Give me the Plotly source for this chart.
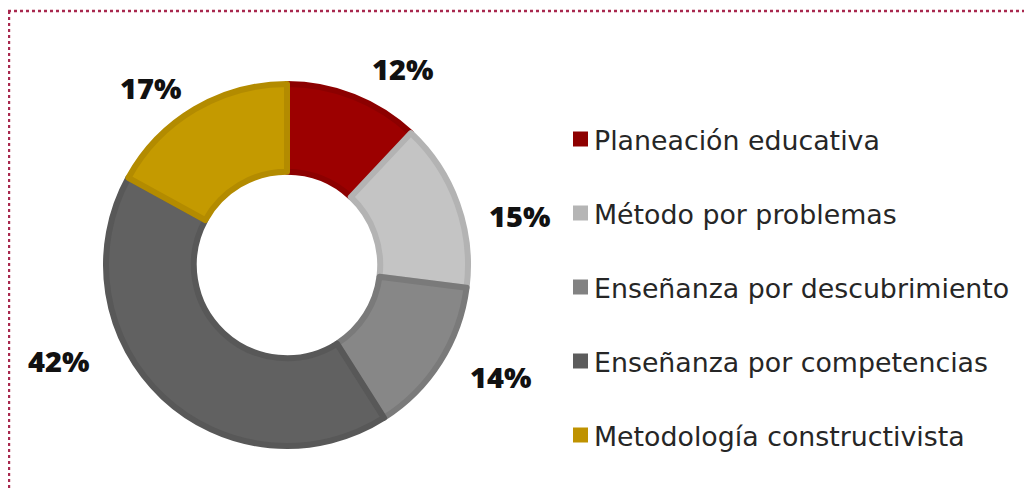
import plotly.graph_objects as go

# page body has an 8px margin, so the figure is sized/offset to compensate
OFF = 8
W, H = 1032 - OFF, 491 - OFF

categories = ["Planeación educativa", "Método por problemas", "Enseñanza por descubrimiento",
              "Enseñanza por competencias", "Metodología constructivista"]
values = [12, 15, 14, 42, 17]

fill_colors = ["#9C0000", "#C4C4C4", "#878787", "#616161", "#C49A00"]
edge_colors = ["#8C0000", "#B3B3B3", "#7A7A7A", "#585858", "#B38B00"]
legend_colors = ["#8E0000", "#B5B5B5", "#828282", "#5C5C5C", "#BF9200"]

# label placement (page pixel centers) for the percentage labels
label_pos = [(402, 68), (519, 215), (500, 376), (58, 360), (150, 88)]


def px(x):
    return (x - OFF) / W


def py(y):
    return 1 - (y - OFF) / H


cx, cy, R = 287, 265, 181
fig = go.Figure()
fig.add_trace(go.Pie(
    labels=categories, values=values, sort=False, direction="clockwise", rotation=0,
    hole=0.515,
    marker=dict(colors=fill_colors, line=dict(color=edge_colors, width=6)),
    textinfo="none", hoverinfo="label+percent", showlegend=False,
    domain=dict(x=[px(cx - R), px(cx + R)], y=[py(cy + R), py(cy - R)]),
))

annotations = []
shapes = []
for (lx, ly), v in zip(label_pos, values):
    annotations.append(dict(
        x=px(lx), y=py(ly), xref="paper", yref="paper", text=f"{v}%", showarrow=False,
        xanchor="center", yanchor="middle",
        font=dict(family="Open Sans", size=29, color="#111111", weight=800)))

row0, gap = 139, 74
for i, (cat, col) in enumerate(zip(categories, legend_colors)):
    yc = row0 + gap * i
    shapes.append(dict(type="rect", xref="paper", yref="paper",
                       x0=px(573), x1=px(588), y0=py(yc + 7.5), y1=py(yc - 7.5),
                       fillcolor=col, line=dict(width=0)))
    annotations.append(dict(
        x=px(592), y=py(yc + 1), xref="paper", yref="paper", text=cat, showarrow=False,
        xanchor="left", yanchor="middle",
        font=dict(family="DejaVu Sans", size=26.8, color="#262626")))

# dotted frame
frame_col = "#A8284E"
shapes.append(dict(type="line", xref="paper", yref="paper", x0=px(8), x1=1.0, y0=py(11), y1=py(11),
                   line=dict(color=frame_col, width=2.4, dash="dot")))
shapes.append(dict(type="line", xref="paper", yref="paper", x0=px(9), x1=px(9), y0=py(11), y1=0,
                   line=dict(color=frame_col, width=2.4, dash="dot")))

fig.update_layout(
    width=W, height=H, margin=dict(l=0, r=0, t=0, b=0),
    paper_bgcolor="white", plot_bgcolor="white",
    annotations=annotations, shapes=shapes,
)
fig.write_html("out.html")
